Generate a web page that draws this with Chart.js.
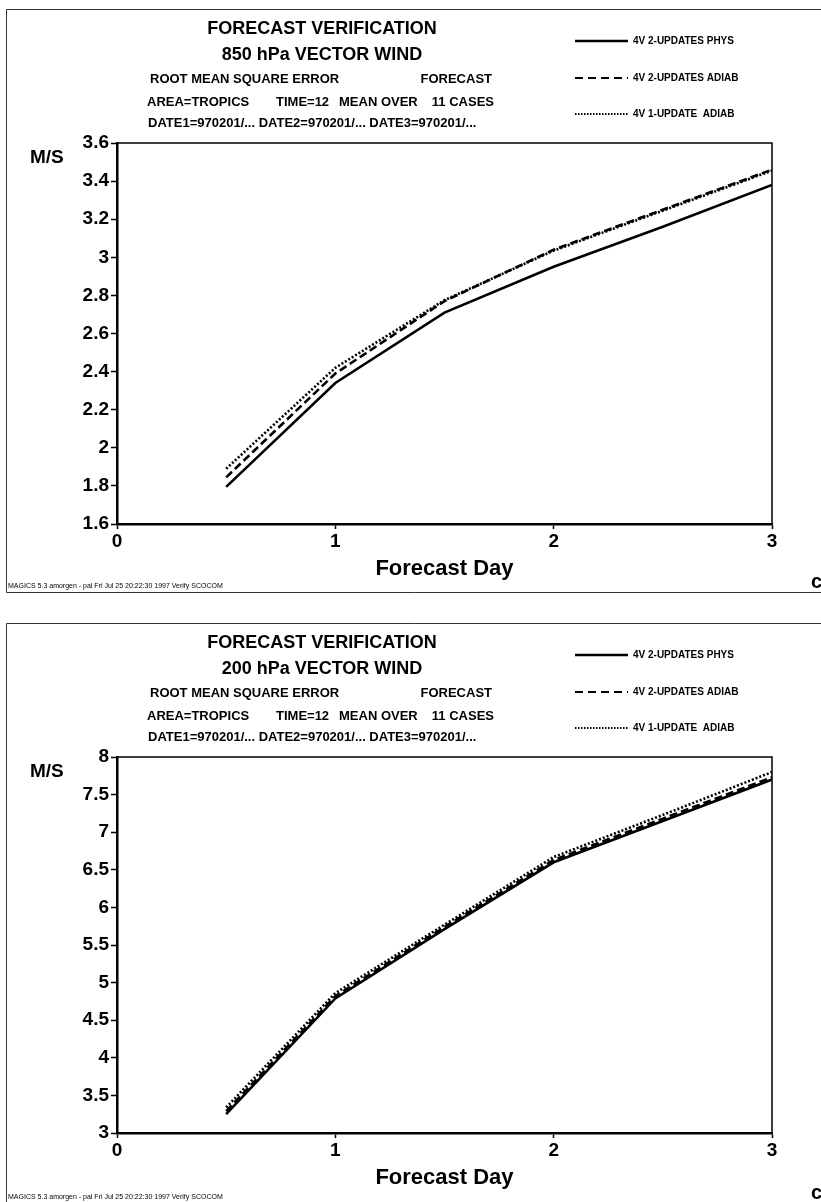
<!DOCTYPE html>
<html>
<head>
<meta charset="utf-8">
<script src="https://cdn.jsdelivr.net/npm/chart.js@4.4.1/dist/chart.umd.min.js"></script>
<style>
  html, body { margin: 0; padding: 0; background: #fff; }
  body { width: 821px; height: 1202px; position: relative; overflow: hidden; }
  canvas { position: absolute; left: 0; }
  #chart850 { top: 0; }
  #chart200 { top: 614px; }
</style>
</head>
<body>
<canvas id="chart850" width="821" height="612"></canvas>
<canvas id="chart200" width="821" height="588"></canvas>
<script>
const forecastDays = [0.5, 1, 1.5, 2, 2.5, 3];
const dayTicks = [0, 1, 2, 3];
const seriesNames = ["4V 2-UPDATES PHYS", "4V 2-UPDATES ADIAB", "4V 1-UPDATE  ADIAB"];

// 850 hPa panel
const ticks850 = [1.6, 1.8, 2, 2.2, 2.4, 2.6, 2.8, 3, 3.2, 3.4, 3.6];
const phys850 = [1.795, 2.34, 2.71, 2.95, 3.16, 3.38];
const adiab2upd850 = [1.845, 2.39, 2.77, 3.04, 3.25, 3.46];
const adiab1upd850 = [1.89, 2.42, 2.775, 3.035, 3.245, 3.455];

// 200 hPa panel
const ticks200 = [3, 3.5, 4, 4.5, 5, 5.5, 6, 6.5, 7, 7.5, 8];
const phys200 = [3.25, 4.79, 5.71, 6.6, 7.15, 7.7];
const adiab2upd200 = [3.29, 4.82, 5.74, 6.63, 7.18, 7.73];
const adiab1upd200 = [3.34, 4.86, 5.77, 6.67, 7.23, 7.8];

const dashes = [[], [8, 4], [2, 2]];
const FONT = '"Liberation Sans", Arial, Helvetica, sans-serif';

function text(ctx, str, x, y, size, align = "left", weight = "bold") {
  ctx.font = `${weight} ${size}px ${FONT}`;
  ctx.textAlign = align;
  ctx.textBaseline = "middle";
  ctx.fillStyle = "#000";
  ctx.fillText(str, x, y);
}

const panelPlugin = {
  id: "panelPlugin",
  afterDraw(chart, args, opts) {
    const { ctx, chartArea } = chart;
    ctx.save();

    // outer page frame
    ctx.strokeStyle = "#333";
    ctx.lineWidth = 1;
    ctx.beginPath();
    ctx.moveTo(830, 9.5);
    ctx.lineTo(6.5, 9.5);
    ctx.lineTo(6.5, opts.frameBottom || chart.height + 5);
    if (opts.frameBottom) ctx.lineTo(830, opts.frameBottom);
    ctx.stroke();

    // top and right side of plot box
    ctx.strokeStyle = "#000";
    ctx.lineWidth = 1.5;
    ctx.beginPath();
    ctx.moveTo(chartArea.left, chartArea.top);
    ctx.lineTo(chartArea.right, chartArea.top);
    ctx.lineTo(chartArea.right, chartArea.bottom);
    ctx.stroke();

    // headings
    text(ctx, "FORECAST VERIFICATION", 322, 29, 18, "center");
    text(ctx, opts.subtitle, 322, 55, 18, "center");
    text(ctx, "ROOT MEAN SQUARE ERROR", 150, 79, 13);
    text(ctx, "FORECAST", 492, 79, 13, "right");
    text(ctx, "AREA=TROPICS", 147, 102, 13);
    text(ctx, "TIME=12", 276, 102, 13);
    text(ctx, "MEAN OVER", 339, 102, 13);
    text(ctx, "11 CASES", 494, 102, 13, "right");
    text(ctx, "DATE1=970201/... DATE2=970201/... DATE3=970201/...", 148, 123, 13);

    // legend
    const legendY = [41, 78, 114];
    chart.data.datasets.forEach((ds, i) => {
      ctx.strokeStyle = "#000";
      ctx.lineWidth = i === 0 ? 2.5 : 2.2;
      ctx.setLineDash(i === 1 ? [8, 5] : i === 2 ? [1.5, 1.5] : []);
      ctx.beginPath();
      ctx.moveTo(575, legendY[i]);
      ctx.lineTo(628, legendY[i]);
      ctx.stroke();
      ctx.setLineDash([]);
      text(ctx, ds.label, 633, legendY[i], 10);
    });

    text(ctx, "M/S", 30, 158, 19);
    text(ctx, "MAGICS 5.3 amorgen - pal Fri Jul 25 20:22:30 1997 Verify SCOCOM", 8, opts.footY, 7, "left", "normal");
    text(ctx, "c", 811, opts.footY - 4, 20);
    ctx.restore();
  },
};

function makePanel(id, yTicks, series, subtitle, pad, footY, frameBottom) {
  const ctx = document.getElementById(id);
  return new Chart(ctx, {
    type: "line",
    data: {
      datasets: series.map((values, i) => ({
        label: seriesNames[i],
        data: forecastDays.map((d, k) => ({ x: d, y: values[k] })),
        borderColor: "#000",
        borderWidth: i === 0 ? 2.6 : 2.6,
        borderDash: dashes[i],
        pointRadius: 0,
        fill: false,
        tension: 0,
      })),
    },
    options: {
      responsive: false,
      animation: false,
      devicePixelRatio: 1,
      layout: { padding: pad },
      plugins: {
        legend: { display: false },
        tooltip: { enabled: false },
        panelPlugin: { subtitle, footY, frameBottom },
      },
      scales: {
        x: {
          type: "linear",
          min: dayTicks[0],
          max: dayTicks[dayTicks.length - 1],
          afterBuildTicks: (s) => { s.ticks = dayTicks.map((v) => ({ value: v })); },
          afterFit: (s) => { s.height = 58; },
          border: { display: true, color: "#000", width: 2.5 },
          grid: { drawOnChartArea: false, drawTicks: true, tickLength: 5, tickColor: "#000", tickWidth: 1.5 },
          ticks: {
            color: "#000",
            padding: 1,
            maxRotation: 0,
            font: { family: FONT, size: 19, weight: "bold" },
            callback: (v) => String(v),
          },
          title: {
            display: true,
            text: "Forecast Day",
            color: "#000",
            padding: 0,
            font: { family: FONT, size: 22, weight: "bold" },
          },
        },
        y: {
          type: "linear",
          min: yTicks[0],
          max: yTicks[yTicks.length - 1],
          afterBuildTicks: (s) => { s.ticks = yTicks.map((v) => ({ value: v })); },
          afterFit: (s) => { s.width = 117; },
          border: { display: true, color: "#000", width: 2.5 },
          grid: { drawOnChartArea: false, drawTicks: true, tickLength: 6, tickColor: "#000", tickWidth: 1.5 },
          ticks: {
            color: "#000",
            padding: 2,
            font: { family: FONT, size: 19, weight: "bold" },
            callback: (v) => String(Math.round(v * 100) / 100),
          },
        },
      },
    },
    plugins: [panelPlugin],
  });
}

makePanel("chart850", ticks850, [phys850, adiab2upd850, adiab1upd850], "850 hPa VECTOR WIND",
  { left: 0, right: 49, top: 143, bottom: 30 }, 586, 592.5);
makePanel("chart200", ticks200, [phys200, adiab2upd200, adiab1upd200], "200 hPa VECTOR WIND",
  { left: 0, right: 49, top: 143, bottom: 11 }, 583, null);
</script>
</body>
</html>
